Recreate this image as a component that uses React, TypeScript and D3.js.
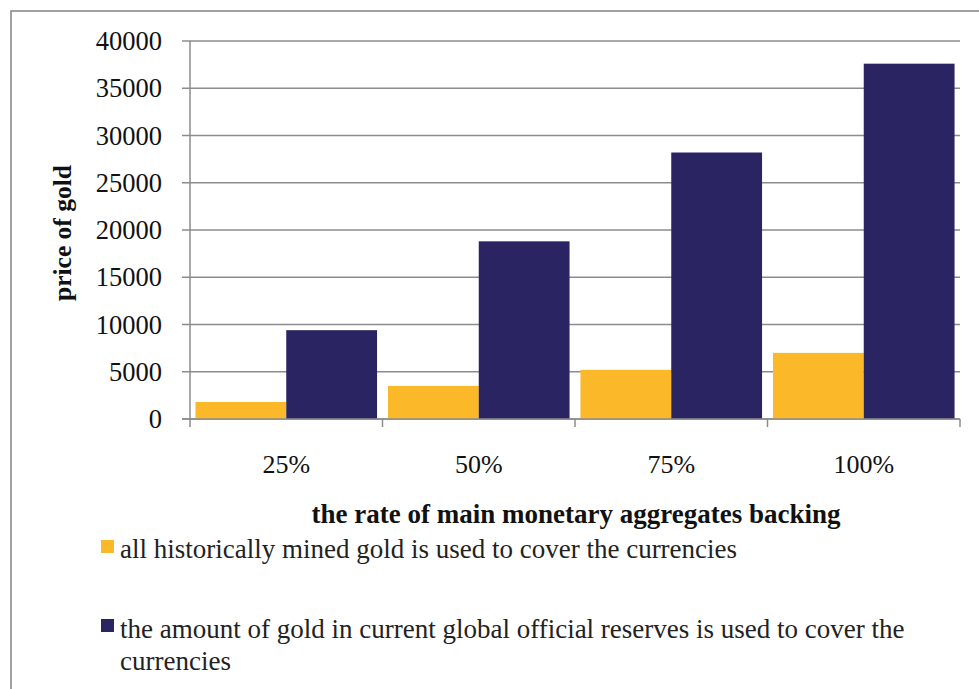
import React from "react";
import * as d3 from "d3";

const categories = ["25%", "50%", "75%", "100%"];
const minedGold = [1800, 3500, 5200, 7000];
const reserveGold = [9400, 18800, 28200, 37600];
const yTicks = [0, 5000, 10000, 15000, 20000, 25000, 30000, 35000, 40000];
const seriesNames = [
  "all historically mined gold is used to cover the currencies",
  "the amount of gold in current global official reserves is used to cover the",
];
const seriesNameCont = "currencies";
const xTitle = "the rate of main monetary aggregates backing";
const yTitle = "price of gold";

const W = 979;
const H = 689;
const FONT = "'Liberation Serif', 'Times New Roman', serif";
const GOLD = "#FBB829";
const NAVY = "#2A2462";
const GRID = "#8c8c8c";

export default function App() {
  const left = 190, right = 960, top = 41, bottom = 419;
  const x = d3.scaleBand<string>().domain(categories).range([left, right]).paddingInner(0).paddingOuter(0);
  const y = d3.scaleLinear().domain([0, 40000]).range([bottom, top]);
  const inner = d3.scaleBand<number>().domain([0, 1]).range([0, x.bandwidth()]).paddingOuter(0.06).paddingInner(0);
  const series = [minedGold, reserveGold];
  const colors = [GOLD, NAVY];
  const boundaries = [...categories.map((c) => x(c) as number), right];

  return (
    <svg width={W} height={H} style={{ position: "absolute", left: 0, top: 0, background: "#fff" }} fontFamily={FONT}>
      <rect x={0} y={0} width={W} height={H} fill="#fff" />
      <rect x={11} y={11} width={W + 10} height={H + 10} fill="none" stroke="#8a8a8a" strokeWidth={1.6} />
      {yTicks.map((t) => (
        <g key={t}>
          <line x1={left - 8} x2={right} y1={y(t)} y2={y(t)} stroke={GRID} strokeWidth={1.5} />
          <text x={162} y={y(t)} dy="0.34em" textAnchor="end" fontSize={26.5} fill="#111">{t}</text>
        </g>
      ))}
      <line x1={left} x2={left} y1={top} y2={bottom} stroke={GRID} strokeWidth={1.5} />
      {series.map((s, si) =>
        s.map((v, i) => (
          <rect
            key={`${si}-${i}`}
            x={(x(categories[i]) as number) + (inner(si) as number)}
            y={y(v)}
            width={inner.bandwidth()}
            height={y(0) - y(v)}
            fill={colors[si]}
          />
        ))
      )}
      <line x1={left - 8} x2={right} y1={bottom} y2={bottom} stroke={GRID} strokeWidth={1.5} />
      {boundaries.map((b, i) => (
        <line key={i} x1={b} x2={b} y1={bottom} y2={bottom + 8} stroke={GRID} strokeWidth={1.5} />
      ))}
      {categories.map((c) => (
        <text key={c} x={(x(c) as number) + x.bandwidth() / 2} y={473} textAnchor="middle" fontSize={26} fill="#111">{c}</text>
      ))}
      <text x={576} y={523} textAnchor="middle" fontSize={27} fontWeight="bold" fill="#111">{xTitle}</text>
      <text transform={`translate(71,233) rotate(-90)`} textAnchor="middle" fontSize={25.5} fontWeight="bold" fill="#111">{yTitle}</text>
      <rect x={101} y={540} width={13} height={13} fill={GOLD} />
      <text x={120} y={558} fontSize={27} fill="#222">{seriesNames[0]}</text>
      <rect x={101} y={619} width={13} height={13} fill={NAVY} />
      <text x={120} y={638} fontSize={27} fill="#222">{seriesNames[1]}</text>
      <text x={120} y={670} fontSize={27} fill="#222">{seriesNameCont}</text>
    </svg>
  );
}
